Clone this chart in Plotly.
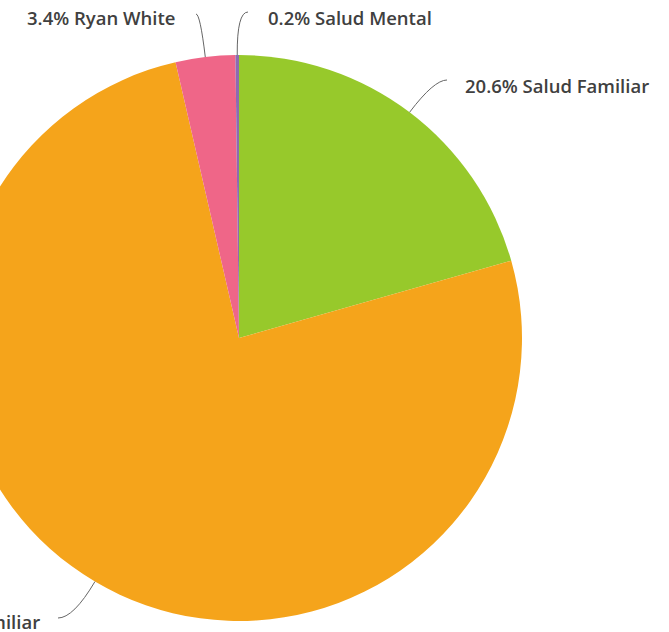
import math
import plotly.graph_objects as go

# Program shares (percent of total)
programs = ["Salud Familiar", "Planificación Familiar", "Ryan White", "Salud Mental"]
shares = [20.6, 75.8, 3.4, 0.2]
colors = ["#97C92B", "#F5A41B", "#EF6688", "#8C6BB1"]

# Canvas geometry (pixels). The figure is drawn wider than the viewport and
# shifted left so the pie is partially cropped on that side.
VIEW_W, H = 669, 632
SHIFT = 60
W = VIEW_W + SHIFT
CX, CY, R = 239, 338, 283          # pie centre / radius in viewport px

# Where each label's connector finishes and where its text sits (viewport px)
label_layout = {
    "Salud Familiar": dict(end=(447, 80), text=(463, 85), anchor="left"),
    "Planificación Familiar": dict(end=(58, 618), text=(42, 621), anchor="right"),
    "Ryan White": dict(end=(196, 14), text=(177, 17), anchor="right"),
    "Salud Mental": dict(end=(248, 12), text=(266, 17), anchor="left"),
}


def px(x):
    return (x + SHIFT) / W


def py(y):
    return 1 - y / H


fig = go.Figure(
    go.Pie(
        labels=programs,
        values=shares,
        sort=False,
        direction="clockwise",
        rotation=0,
        marker=dict(colors=colors, line=dict(width=0)),
        textinfo="none",
        hoverinfo="label+percent",
        domain=dict(x=[px(CX - R), px(CX + R)], y=[py(CY + R), py(CY - R)]),
        showlegend=False,
    )
)

shapes, annotations = [], []
total = sum(shares)
start = 0.0
for name, val in zip(programs, shares):
    mid = start + val / total * 360 / 2
    start += val / total * 360
    a = math.radians(mid)
    dx, dy = math.sin(a), -math.cos(a)
    x0, y0 = CX + R * dx, CY + R * dy
    lay = label_layout[name]
    ex, ey = lay["end"]
    t = (ey - y0) / dy if abs(dy) > 1e-6 else 30
    qx, qy = x0 + t * dx, ey
    path = (
        f"M {px(x0)},{py(y0)} Q {px(qx)},{py(qy)} {px(ex)},{py(ey)}"
    )
    shapes.append(
        dict(type="path", path=path, xref="paper", yref="paper",
             line=dict(color="#666666", width=1))
    )
    tx, ty = lay["text"]
    annotations.append(
        dict(x=px(tx), y=py(ty), xref="paper", yref="paper",
             text=f"{val}% {name}", showarrow=False,
             xanchor=lay["anchor"], yanchor="middle",
             font=dict(family="Open Sans", size=18.5, color="#404040", weight=600))
    )

fig.update_layout(
    width=W,
    height=H,
    margin=dict(l=0, r=0, t=0, b=0),
    paper_bgcolor="white",
    plot_bgcolor="white",
    shapes=shapes,
    annotations=annotations,
)

fig.write_html(
    "out.html",
    post_script=(
        "document.body.style.margin='0';"
        "document.body.style.overflow='hidden';"
        "var d=document.getElementById('{plot_id}');"
        "d.style.marginLeft='-" + str(SHIFT) + "px';"
    ),
)
